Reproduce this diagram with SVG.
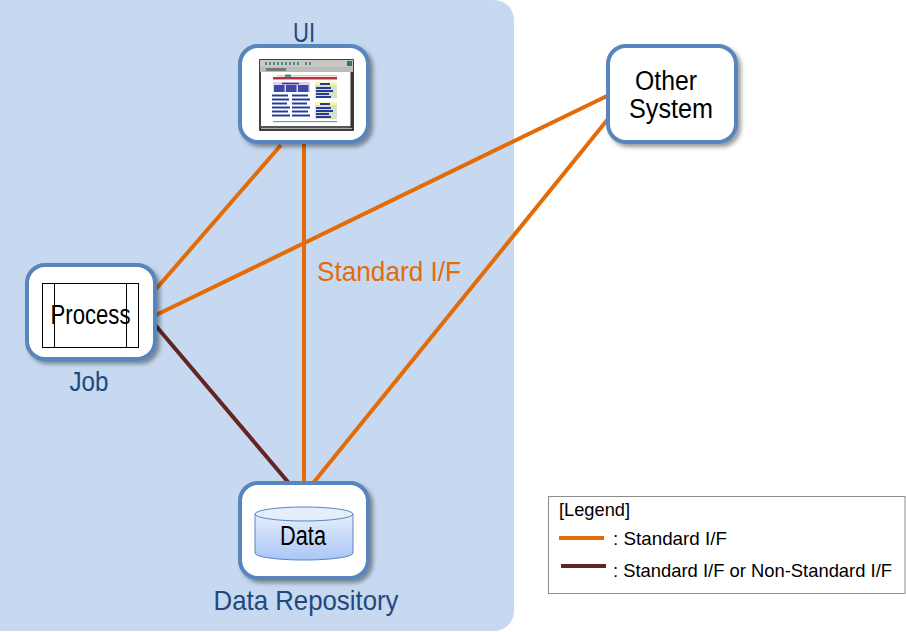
<svg xmlns="http://www.w3.org/2000/svg" width="906" height="632" viewBox="0 0 906 632">
<style>
text{font-family:"Liberation Sans",Arial,sans-serif}
.box{fill:#fff;stroke:#5885bb;stroke-width:4;filter:url(#sh)}
.lbl{fill:#1f497d;font-size:28px;text-anchor:middle}
.blk{fill:#000;font-size:27px;text-anchor:middle}
.leg{fill:#000;font-size:19px}
.std{stroke:#e36c0a;stroke-width:4;fill:none}
.non{stroke:#632523;stroke-width:4;fill:none}
.t{stroke:#2a3a9a;stroke-width:2.200;fill:none}
.g{fill:#d4e3c4}
</style>
<defs>
<filter id="sh" x="-10%" y="-10%" width="125%" height="125%"><feDropShadow dx="3" dy="3" stdDeviation="2" flood-color="#000" flood-opacity="0.4"/></filter>
<linearGradient id="cyl" x1="0" y1="0" x2="0" y2="1"><stop offset="0" stop-color="#e6eefb"/><stop offset="1" stop-color="#a9c6f7"/></linearGradient>
</defs>
<rect width="906" height="632" fill="#fff"/>
<rect id="panel" x="-20" y="0" width="534" height="631" rx="20" fill="#c6d9f1"/>
<g id="connectors">
<line class="std" x1="281" y1="145" x2="156" y2="289"/>
<line class="std" x1="304" y1="144" x2="304" y2="482"/>
<line class="std" x1="609" y1="95" x2="156" y2="315"/>
<line class="std" x1="608" y1="119" x2="314" y2="482"/>
<line class="non" x1="156" y1="326" x2="288" y2="482"/>
</g>
<text id="if-label" x="389" y="281" fill="#e36c0a" font-size="28" text-anchor="middle" textLength="144" lengthAdjust="spacingAndGlyphs">Standard I/F</text>
<g id="ui">
<text class="lbl" x="304" y="42" font-size="29" textLength="22" lengthAdjust="spacingAndGlyphs">UI</text>
<rect class="box" x="240" y="46" width="128" height="96" rx="18"/>
<rect x="260" y="60" width="93" height="70" fill="#fff" stroke="#000" stroke-width="1.500"/>
<rect x="260" y="60" width="93" height="7" fill="#c8c8c0"/>
<rect x="260" y="67" width="93" height="5" fill="#bbb"/>
<rect x="266" y="68" width="20" height="3" fill="#777"/>
<rect x="347" y="61" width="5" height="5" fill="#2a7a66"/>
<path d="M265 63.500h2M269 63.500h2M273 63.500h2M277 63.500h2M281 63.500h2M285 63.500h2M289 63.500h2M293 63.500h2M297 63.500h2M305 63.500h2M309 63.500h2" stroke="#4a8a90" stroke-width="3" fill="none"/>
<rect x="260" y="126" width="93" height="2.500" fill="#555"/>
<rect x="350.500" y="72" width="2.500" height="56" fill="#333"/>
<rect x="273" y="77" width="64" height="2.500" fill="#b83050"/>
<rect x="277" y="75" width="60" height="1.500" fill="#f0c8a0"/>
<rect x="285" y="74.500" width="6" height="2.500" fill="#4a8a90"/>
<rect x="273" y="82" width="37" height="10" fill="#e8cce8"/>
<rect x="274" y="85" width="10.500" height="7" fill="#3a4aa8"/>
<rect x="286" y="85" width="10.500" height="7" fill="#3a4aa8"/>
<rect x="298" y="85" width="10.500" height="7" fill="#3a4aa8"/>
<path d="M282 83.500h17" stroke="#2a3a9a" stroke-width="1.500"/>
<rect x="315" y="82" width="22" height="16" class="g"/>
<rect x="315" y="82" width="22" height="3" fill="#f6f4b8"/>
<path class="t" d="M320 84h10M316 88h15M316 91h17M316 94h13M316 97h15"/>
<path class="t" d="M272 95.500h16M272 99.500h17M272 103.500h15M272 107.500h18M272 111.500h16M272 115.500h18"/>
<path class="t" d="M292 95.500h16M292 99.500h18M292 103.500h15M292 107.500h18M292 111.500h16M292 115.500h18"/>
<rect x="315" y="102" width="22" height="17" class="g"/>
<rect x="315" y="102" width="22" height="3" fill="#f6f4b8"/>
<path class="t" d="M320 104h10M316 108h15M316 111h17M316 114h13M316 117h15"/>
<rect x="273" y="121" width="64" height="1.200" fill="#6aa8b0"/>
</g>
<g id="job">
<rect class="box" x="27" y="265" width="128" height="94" rx="18"/>
<rect x="42.500" y="283.500" width="96" height="64" fill="#fff" stroke="#000" stroke-width="1"/>
<path d="M54.500 283.500v64M126.500 283.500v64" stroke="#000" stroke-width="1" fill="none"/>
<text class="blk" x="90.500" y="324" textLength="80" lengthAdjust="spacingAndGlyphs">Process</text>
<text class="lbl" x="89" y="391" font-size="29" textLength="39" lengthAdjust="spacingAndGlyphs">Job</text>
</g>
<g id="data">
<rect class="box" x="240" y="483" width="128" height="95" rx="18"/>
<path d="M255 514v39c0 4 22 7 49 7s49-3 49-7v-39z" fill="url(#cyl)" stroke="#5885bb" stroke-width="1"/>
<ellipse cx="304" cy="514" rx="49" ry="7" fill="#e6eefb" stroke="#5885bb" stroke-width="1"/>
<text class="blk" x="303" y="545" textLength="46" lengthAdjust="spacingAndGlyphs">Data</text>
<text class="lbl" x="306" y="610" textLength="185" lengthAdjust="spacingAndGlyphs">Data Repository</text>
</g>
<g id="other">
<rect class="box" x="608" y="46" width="128" height="96" rx="18"/>
<text class="blk" x="666" y="90" textLength="62" lengthAdjust="spacingAndGlyphs">Other</text>
<text class="blk" x="671" y="118" textLength="84" lengthAdjust="spacingAndGlyphs">System</text>
</g>
<g id="legend">
<rect x="548.500" y="496.500" width="356.500" height="97" fill="#fff" stroke="#8c8c8c" stroke-width="1"/>
<text class="leg" x="559" y="516" textLength="71" lengthAdjust="spacingAndGlyphs">[Legend]</text>
<line class="std" x1="559" y1="538" x2="604" y2="538"/>
<text class="leg" x="613" y="545" textLength="114" lengthAdjust="spacingAndGlyphs">: Standard I/F</text>
<line class="non" x1="561" y1="566" x2="606" y2="566"/>
<text class="leg" x="613" y="577" textLength="279" lengthAdjust="spacingAndGlyphs">: Standard I/F or Non-Standard I/F</text>
</g>
</svg>
